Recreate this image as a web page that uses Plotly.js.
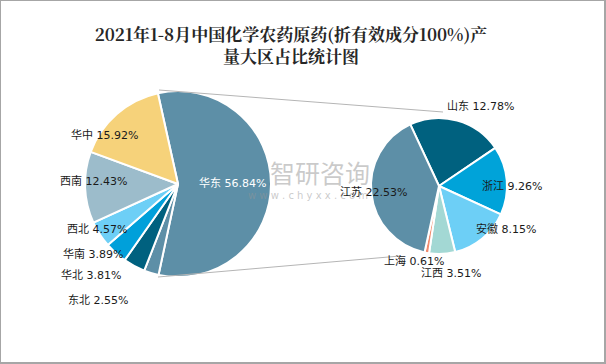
<!DOCTYPE html>
<html>
<head>
<meta charset="utf-8">
<script src="https://cdn.plot.ly/plotly-3.0.1.min.js"></script>
<style>
html,body{margin:0;padding:0;background:#fff;}
#wrap{position:relative;width:606px;height:364px;}
#chart{width:606px;height:364px;}
#frame{position:absolute;left:0;top:0;width:606px;height:364px;box-sizing:border-box;border:1px solid #a6a6a6;border-right-width:2px;border-bottom-width:2px;pointer-events:none;}
</style>
</head>
<body>
<div id="wrap"><div id="chart"></div><div id="frame"></div></div>
<script>
// ---- data ----
const regionLabels = ["华东", "东北", "华北", "华南", "西北", "西南", "华中"];
const regionValues = [56.84, 2.55, 3.81, 3.89, 4.57, 12.43, 15.92];
const regionColors = ["#5d8fa7", "#5d8fa7", "#00617f", "#00a0da", "#6dcff6", "#9cbccb", "#f6d27a"];

const provLabels = ["山东", "浙江", "安徽", "江西", "上海", "江苏"];
const provValues = [12.78, 9.26, 8.15, 3.51, 0.61, 22.53];
const provColors = ["#00617f", "#00a3d9", "#6dcff6", "#a3d8d4", "#f08b6e", "#5d8fa7"];

const titleText = "2021年1-8月中国化学农药原药(折有效成分100%)产<br>量大区占比统计图";

// ---- layout helpers (pixel positions -> paper) ----
const W = 606, H = 364;
const px = x => x / W;
const py = y => 1 - y / H;

// label placements (pixel centres)
const regionLabelPos = [[232,183],[98,300],[91,275],[93,254],[97,229],[93,181],[104,135]];
const provLabelPos = [[480,106],[512,187],[506,229],[451,273],[414,261],[373,192]];

const leftPie = {cx:178, cy:184, r:93};
const rightPie = {cx:439, cy:186, r:68};

function domainOf(p){
  return {x:[px(p.cx-p.r), px(p.cx+p.r)], y:[py(p.cy+p.r), py(p.cy-p.r)]};
}

const traces = [
  {
    type:'pie', labels:regionLabels, values:regionValues, sort:false,
    direction:'clockwise', rotation:-12.5, textinfo:'none', hoverinfo:'label+value',
    marker:{colors:regionColors, line:{color:'#ffffff', width:2}},
    domain:domainOf(leftPie), showlegend:false
  },
  {
    type:'pie', labels:provLabels, values:provValues, sort:false,
    direction:'clockwise', rotation:-25, textinfo:'none', hoverinfo:'label+value',
    marker:{colors:provColors, line:{color:'#ffffff', width:2}},
    domain:domainOf(rightPie), showlegend:false
  }
];

const labelFont = {family:'"DejaVu Sans", "Noto Sans CJK SC", sans-serif', size:11, color:'#1a1a1a'};
const annotations = [];
regionLabels.forEach((l,i)=>{
  annotations.push({
    xref:'paper', yref:'paper', x:px(regionLabelPos[i][0]), y:py(regionLabelPos[i][1]),
    xanchor:'center', yanchor:'middle', showarrow:false,
    text:l + ' ' + regionValues[i].toFixed(2) + '%',
    font: i === 0 ? Object.assign({}, labelFont, {color:'#ffffff'}) : labelFont
  });
});
provLabels.forEach((l,i)=>{
  annotations.push({
    xref:'paper', yref:'paper', x:px(provLabelPos[i][0]), y:py(provLabelPos[i][1]),
    xanchor:'center', yanchor:'middle', showarrow:false,
    text:l + ' ' + provValues[i].toFixed(2) + '%', font:labelFont
  });
});
// watermark
annotations.push({xref:'paper', yref:'paper', x:px(320), y:py(172), showarrow:false,
  text:'智研咨询', font:{family:'"Noto Sans CJK SC", sans-serif', size:25, color:'rgba(150,150,150,0.5)'}});
annotations.push({xref:'paper', yref:'paper', x:px(308), y:py(195), showarrow:false,
  text:'w w w . c h y x x . c o m', font:{family:'"DejaVu Sans", sans-serif', size:10, color:'rgba(150,150,150,0.5)'}});

const shapes = [
  {type:'line', xref:'paper', yref:'paper', x0:px(159), y0:py(90), x1:px(443), y1:py(112), line:{color:'#b5b5b5', width:1}},
  {type:'line', xref:'paper', yref:'paper', x0:px(158), y0:py(277), x1:px(400), y1:py(256), line:{color:'#b5b5b5', width:1}}
];

const layout = {
  width:W, height:H, margin:{l:0, r:0, t:0, b:0},
  paper_bgcolor:'#ffffff', plot_bgcolor:'#ffffff',
  title:{text:titleText, x:px(291), xanchor:'center', y:py(41), yanchor:'middle',
    font:{family:'"Noto Serif CJK SC", "Noto Sans CJK SC", serif', size:17, color:'#262626', weight:'bold'}},
  annotations:annotations, shapes:shapes, showlegend:false
};

Plotly.newPlot('chart', traces, layout, {displayModeBar:false, staticPlot:true});
</script>
</body>
</html>
